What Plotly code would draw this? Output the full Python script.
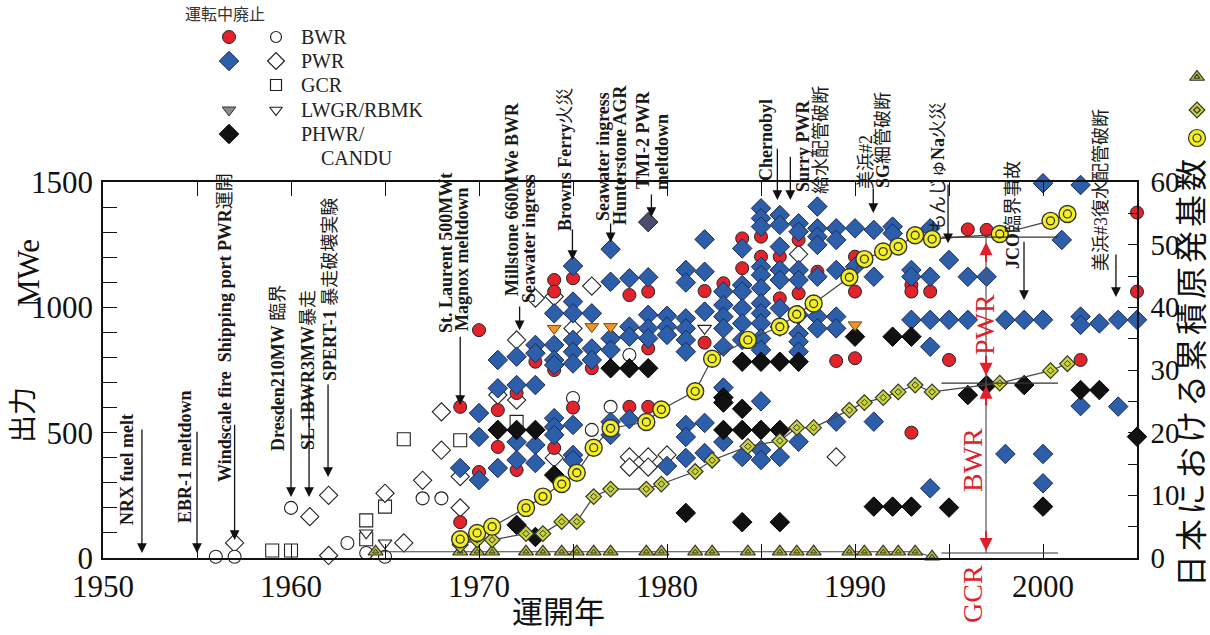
import plotly.graph_objects as go

W, H = 1210, 635
SERIF = "Liberation Serif, Noto Sans CJK JP, serif"

# ---------------- reactors worldwide: start year and output (MWe) ----------------
# BWR in operation
bwr_op_year = [1969, 1969, 1970, 1970, 1971, 1971, 1972, 1972, 1973,
               1974, 1974, 1974, 1974, 1975, 1975, 1976, 1978, 1978,
               1979, 1979, 1979, 1982, 1982, 1983, 1984, 1984, 1985, 1985,
               1986, 1986, 1987, 1987, 1988, 1989, 1990, 1990, 1990,
               1993, 1993, 1993, 1994, 1995, 1996, 1997, 2002, 2005, 2005]
bwr_op_mwe = [603, 143, 909, 343, 590, 443, 658, 351, 783,
              1109, 1063, 750, 439, 1116, 600, 757, 1049, 603,
              1063, 836, 603, 1065, 859, 1096, 1275, 1156, 1282, 1202,
              1202, 1036, 1269, 1056, 1142, 786, 1202, 1063, 797,
              1089, 1063, 500, 1063, 790, 1311, 1309, 790, 1378, 1063]

# BWR shut down
bwr_off_year = [1956, 1957, 1960, 1963, 1964, 1965, 1967, 1968, 1975, 1976, 1977, 1978]
bwr_off_mwe = [5, 5, 200, 60, 20, 5, 238, 238, 638, 511, 603, 810]

# PWR in operation
pwr_op_year = [
    1969,
    1970, 1970, 1970,
    1971, 1971, 1971,
    1972, 1972, 1972, 1972,
    1973, 1973, 1973, 1973, 1973,
    1974, 1974, 1974, 1974, 1974, 1974, 1974,
    1975, 1975, 1975, 1975, 1975, 1975, 1975, 1975, 1975,
    1976, 1976, 1976,
    1977, 1977, 1977, 1977, 1977, 1977,
    1978, 1978, 1978, 1978,
    1979, 1979, 1979, 1979,
    1980, 1980, 1980, 1980,
    1981, 1981, 1981, 1981, 1981, 1981, 1981, 1981, 1981,
    1982, 1982, 1982, 1982, 1982,
    1983, 1983, 1983, 1983, 1983, 1983, 1983,
    1984, 1984, 1984, 1984, 1984, 1984, 1984,
    1985, 1985, 1985, 1985, 1985, 1985, 1985, 1985, 1985, 1985, 1985, 1985, 1985, 1985,
    1986, 1986, 1986, 1986, 1986, 1986, 1986, 1986,
    1987, 1987, 1987, 1987, 1987, 1987, 1987, 1987, 1987,
    1988, 1988, 1988, 1988, 1988, 1988, 1988,
    1989, 1989, 1989, 1989, 1989, 1989,
    1990, 1990,
    1991, 1991, 1991,
    1992, 1992,
    1993, 1993, 1993,
    1994, 1994, 1994, 1994, 1994,
    1995, 1995,
    1996, 1996,
    1997,
    1998, 1998,
    1999,
    2000, 2000, 2000, 2000,
    2001,
    2002, 2002, 2002, 2002,
    2003,
    2004, 2004,
    2005,
]
pwr_op_mwe = [
    359,
    578, 483, 311,
    790, 677, 359,
    803, 690, 463, 391,
    850, 817, 690, 451, 379,
    976, 850, 790, 770, 558, 523, 491,
    1165, 1023, 976, 870, 823, 776, 531, 411, 391,
    976, 836, 790,
    1232, 1102, 876, 830, 543, 491,
    1116, 923, 883, 554,
    1120, 970, 916, 876,
    966, 923, 890, 367,
    1149, 1099, 956, 916, 870, 823, 531, 483, 399,
    1271, 1142, 983, 539, 419,
    1063, 1009, 963, 916, 843, 680, 463,
    1235, 1089, 1063, 996, 936, 870, 403,
    1395, 1355, 1322, 1162, 1129, 1076, 1016, 976, 936, 876, 830, 625, 431, 391,
    1368, 1329, 1242, 1149, 1109, 996, 923, 403,
    1335, 1302, 1149, 1109, 970, 896, 863, 823, 464,
    1402, 1315, 1282, 1249, 1122, 963, 916,
    1315, 1269, 1149, 963, 916, 544,
    1315, 1162,
    1309, 1122, 544,
    1322, 1295,
    1149, 1122, 950,
    1315, 1122, 950, 843, 278,
    1189, 950,
    1122, 950,
    1122,
    950, 415,
    950,
    1495, 950, 415, 298,
    1269,
    1488, 963, 930, 606,
    936,
    950, 604,
    950,
]

# PWR shut down
pwr_off_year = [1957, 1961, 1962, 1962, 1965, 1966, 1967, 1968, 1968, 1969, 1969,
                1971, 1972, 1972, 1973, 1974, 1974, 1975, 1976, 1978, 1978,
                1979, 1979, 1980, 1987, 1989]
pwr_off_mwe = [60, 165, 250, 10, 258, 60, 310, 583, 430, 325, 200,
               650, 870, 630, 1037, 1043, 399, 916, 1085, 403, 363,
               403, 363, 411, 1212, 403]

# TMI-2
tmi_year = [1979]
tmi_mwe = [1340]

# GCR shut down
gcr_off_year = [1959, 1960, 1964, 1964, 1965, 1966, 1969, 1972]
gcr_off_mwe = [30, 30, 150, 75, 205, 474, 470, 543]

# LWGR / RBMK
lwgr_op_year = [1974, 1976, 1977, 1990]
lwgr_op_mwe = [916, 923, 923, 930]
lwgr_off_year = [1964, 1965, 1982]
lwgr_off_mwe = [100, 60, 916]

# PHWR / CANDU in operation
phwr_year = [1971, 1972, 1972, 1973, 1973, 1974, 1977, 1978, 1979, 1981,
             1983, 1983, 1983, 1984, 1984, 1984, 1984, 1985, 1985,
             1986, 1986, 1986, 1987, 1990, 1991, 1992, 1992, 1993, 1993,
             1995, 1996, 1997, 1999, 2000, 2002, 2003, 2005]
phwr_mwe = [511, 511, 132, 511, 84, 331, 757, 757, 757, 180,
            640, 620, 511, 783, 595, 511, 143, 783, 511,
            783, 511, 143, 783, 883, 205, 883, 205, 883, 205,
            201, 650, 690, 690, 205, 670, 670, 484]

# ---------------- cumulative number of units in Japan (right axis) ----------------
jp_year = [1969.0, 1969.9, 1970.7, 1972.5, 1973.4, 1974.4, 1975.2, 1976.1,
           1977.0, 1978.9, 1979.7, 1981.5, 1982.4, 1984.3, 1986.0, 1986.9, 1987.8,
           1989.7, 1990.5, 1991.5, 1992.3, 1993.2, 1994.1, 1997.7, 2000.4, 2001.3]
jp_total = [3, 4, 5, 8, 9.8, 11.8, 13.6, 17.6,
            20.7, 21.7, 23.7, 26.6, 31.8, 34.8, 36.9, 38.9, 40.6,
            44.8, 47.7, 48.9, 49.7, 51.5, 50.9, 51.7, 53.8, 54.9]
jp_bwr_gcr = [2.1, 2.9, 2.9, 3.9, 3.9, 5.8, 5.8, 9.8,
              11.0, 11.0, 11.8, 13.8, 15.6, 17.8, 18.7, 20.8, 20.8,
              23.6, 24.8, 25.6, 26.5, 27.6, 26.5, 27.9, 29.9, 31.0]
jp_gcr_year = [1964.5, 1969.0, 1969.9, 1970.7, 1972.5, 1973.4, 1974.4, 1975.2, 1976.1,
               1977.0, 1978.9, 1979.7, 1981.5, 1982.4, 1984.3, 1986.0, 1986.9, 1987.8,
               1989.7, 1990.5, 1991.5, 1992.3, 1993.2, 1994.1]
jp_gcr = [1, 1, 1, 1, 1, 1, 1, 1, 1,
          1, 1, 1, 1, 1, 1, 1, 1, 1,
          1, 1, 1, 1, 1, 0.2]

# stacked totals in 1997: all units / BWR+GCR / GCR
stack_year = 1996.97
stack_levels = [51.2, 27.9, 0.8]
stack_span = [1994.6, 2000.8]

# ---------------- accidents and milestones ----------------
event_year = [1952.07, 1955.0, 1957.0, 1960.0, 1960.96, 1961.97, 1969.0, 1972.16, 1974.97,
              1977.0, 1979.17, 1985.87, 1986.56, 1990.97, 1994.95, 1998.99, 2003.88]
event_tail = [519, 510, 538, 602, 698, 698, 889, 1009, 1316,
              1340, 1456, 1639, 1607, 1480, 1496, 1268, 1217]
event_head = [20, 20, 72, 243, 243, 323, 610, 909, 1189,
              1260, 1360, 1428, 1428, 1376, 1256, 1029, 1041]

event_labels = [
    "<b>NRX fuel melt</b>",
    "<b>EBR-1 meltdown</b>",
    "<b>Windscale fire  Shipping port PWR</b>運開",
    "<b>Dresden210MW</b> 臨界",
    "<b>SL-1BWR3MW</b>暴走",
    "<b>SPERT-1</b> 暴走破壊実験",
    "<b>St. Laurent 500MWt</b>",
    "<b>Magnox meltdown</b>",
    "<b>Millstone 660MWe BWR</b>",
    "<b>Seawater ingress</b>",
    "<b>Browns Ferry</b>火災",
    "<b>Seawater ingress</b>",
    "<b>Hunterstone AGR</b>",
    "<b>TMI-2 PWR</b>",
    "<b>meltdown</b>",
    "<b>Chernobyl</b>",
    "<b>Surry PWR</b>",
    "給水配管破断",
    "美浜#2",
    "<b>SG</b>細管破断",
    "もんじゅ<b>Na</b>火災",
    "<b>JCO</b>臨界事故",
    "美浜#3復水配管破断",
]
# label centres in page pixels
label_px = [127, 185, 225, 278, 308, 330, 446, 462, 512, 529, 565, 603, 620,
            643, 662, 766, 803, 821, 866, 883, 938, 1013, 1101]
label_py = [470, 457, 328, 368, 370, 290, 253, 259, 199, 239, 160, 157, 155,
            140, 152, 140, 146, 140, 162, 140, 167, 215, 190]

# ---------------- styles ----------------
RED = "#e3232b"
BLUE = "#2d5ea9"
NAVY = "#1c2a55"
ORANGE = "#f29323"
YELLOW = "#f4ef1f"
LIME = "#c9d43a"
OLIVE = "#b2bb2c"

fig = go.Figure()


def scatter(x, y, symbol, size, fill, line="#111", lw=1.0, yaxis="y", mode="markers"):
    fig.add_trace(go.Scatter(
        x=x, y=y, mode=mode, yaxis=yaxis, showlegend=False,
        hoverinfo="skip", cliponaxis=False,
        line=dict(color="#444", width=1.2),
        marker=dict(symbol=symbol, size=size, color=fill, line=dict(color=line, width=lw)),
    ))


# retired units (open symbols)
scatter(gcr_off_year, gcr_off_mwe, "square", 13, "white", "#222", 1.1)
scatter(lwgr_off_year, lwgr_off_mwe, "triangle-down", 12, "white", "#222", 1.1)
scatter(pwr_off_year, pwr_off_mwe, "diamond", 14, "white", "#222", 1.1)
scatter(bwr_off_year, bwr_off_mwe, "circle", 13, "white", "#222", 1.1)

# operating units (filled symbols)
scatter(bwr_op_year, bwr_op_mwe, "circle", 13, RED, "#222", 1.0)
scatter(pwr_op_year, pwr_op_mwe, "diamond", 15, BLUE, NAVY, 1.0)
scatter(phwr_year, phwr_mwe, "diamond", 15, "#111111", "#000", 1.0)
scatter(lwgr_op_year, lwgr_op_mwe, "triangle-down", 12, ORANGE, "#6a4a20", 1.0)
scatter(tmi_year, tmi_mwe, "diamond", 15, "#4b4c6e", "#222", 1.0)

# cumulative Japanese units on the right axis
scatter(jp_gcr_year, jp_gcr, "triangle-up", 13, OLIVE, "#333", 1.2, "y2", "lines+markers")
scatter(jp_gcr_year, jp_gcr, "triangle-up", 5, OLIVE, "#333", 1.0, "y2")
scatter(jp_year, jp_bwr_gcr, "diamond", 12, LIME, "#333", 1.2, "y2", "lines+markers")
scatter(jp_year, jp_bwr_gcr, "diamond", 5, LIME, "#333", 1.0, "y2")
scatter(jp_year, jp_total, "circle", 17, YELLOW, "#333", 1.4, "y2", "lines+markers")
scatter(jp_year, jp_total, "circle", 8, YELLOW, "#333", 1.3, "y2")

# ---------------- key (drawn on a page-pixel overlay axis) ----------------
key_rows = ["BWR", "PWR", "GCR", "LWGR/RBMK", "PHWR/"]
key_py = [37, 61, 85, 110, 134]
key_filled = [("circle", 13, RED, "#222"), ("diamond", 15, BLUE, NAVY), None,
              ("triangle-down", 12, "#8a8a8a", "#333"), ("diamond", 15, "#111", "#000")]
key_open = [("circle", 11), ("diamond", 13), ("square", 11), ("triangle-down", 11), None]

for py, filled, opened, label in zip(key_py, key_filled, key_open, key_rows):
    if filled:
        sym, sz, col, lc = filled
        fig.add_trace(go.Scatter(x=[229], y=[py], xaxis="x3", yaxis="y3", mode="markers",
                                 showlegend=False, hoverinfo="skip", cliponaxis=False,
                                 marker=dict(symbol=sym, size=sz, color=col, line=dict(color=lc, width=1))))
    if opened:
        sym, sz = opened
        fig.add_trace(go.Scatter(x=[276], y=[py], xaxis="x3", yaxis="y3", mode="markers",
                                 showlegend=False, hoverinfo="skip", cliponaxis=False,
                                 marker=dict(symbol=sym, size=sz, color="white", line=dict(color="#222", width=1.2))))
    fig.add_annotation(x=300 / W, y=1 - py / H, xref="paper", yref="paper", text=label,
                       showarrow=False, xanchor="left", yanchor="middle", borderpad=0,
                       font=dict(family=SERIF, size=20, color="#222"))
fig.add_annotation(x=320 / W, y=1 - 158 / H, xref="paper", yref="paper", text="CANDU",
                   showarrow=False, xanchor="left", yanchor="middle", borderpad=0,
                   font=dict(family=SERIF, size=20, color="#222"))
fig.add_annotation(x=225 / W, y=1 - 15 / H, xref="paper", yref="paper", text="運転中廃止",
                   showarrow=False, xanchor="center", yanchor="middle",
                   font=dict(family=SERIF, size=16, color="#333"))

# key for the Japanese cumulative series (right edge)
for py, sym, sz, col, inner in [(77, "triangle-up", 13, OLIVE, 5), (110, "diamond", 12, LIME, 5),
                                (138, "circle", 17, YELLOW, 8)]:
    for s in (sz, inner):
        fig.add_trace(go.Scatter(x=[1197], y=[py], xaxis="x3", yaxis="y3", mode="markers",
                                 showlegend=False, hoverinfo="skip", cliponaxis=False,
                                 marker=dict(symbol=sym, size=s, color=col, line=dict(color="#333", width=1.2))))

# ---------------- event arrows and labels ----------------
for yr, tail, head in zip(event_year, event_tail, event_head):
    fig.add_annotation(x=yr, y=head, ax=yr, ay=tail, xref="x", yref="y", axref="x", ayref="y",
                       text="", showarrow=True, arrowhead=2, arrowsize=1.5, arrowwidth=1.3,
                       arrowcolor="#111", standoff=0)

for txt, px, py in zip(event_labels, label_px, label_py):
    fig.add_annotation(x=px / W, y=1 - py / H, xref="paper", yref="paper", text=txt,
                       textangle=-90, showarrow=False, xanchor="center", yanchor="middle",
                       font=dict(family=SERIF, size=18, color="#1a1a1a"))

# ---------------- stacked totals bracket (PWR / BWR / GCR) ----------------
shapes = []
for lvl in stack_levels:
    shapes.append(dict(type="line", xref="x", yref="y2", x0=stack_span[0], x1=stack_span[1],
                       y0=lvl, y1=lvl, line=dict(color="#333", width=1.2)))
shapes.append(dict(type="line", xref="x", yref="y2", x0=stack_year, x1=stack_year,
                   y0=stack_levels[2], y1=stack_levels[0], line=dict(color="#555", width=1.2)))
shapes.append(dict(type="line", xref="x", yref="y2", x0=stack_year, x1=stack_year,
                   y0=-9, y1=-3, line=dict(color="#5a8a6a", width=1.2)))

red_tips = [(50.4, 47.0), (29.1, 32.5), (27.5, 24.1), (1.1, 4.5), (-0.4, -3.6)]
for tip, tail in red_tips:
    fig.add_annotation(x=stack_year, y=tip, ax=stack_year, ay=tail, xref="x", yref="y2",
                       axref="x", ayref="y2", text="", showarrow=True, arrowhead=2,
                       arrowsize=1.3, arrowwidth=2, arrowcolor="#e0202a", standoff=0)

for txt, px, py in [("PWR", 984, 325), ("BWR", 972, 460), ("GCR", 972, 594)]:
    fig.add_annotation(x=px / W, y=1 - py / H, xref="paper", yref="paper", text=txt,
                       textangle=-90, showarrow=False, xanchor="center", yanchor="middle",
                       font=dict(family=SERIF, size=28, color="#e0202a"))

# ---------------- axis titles ----------------
titles = [("MWe", 28, 273, -90, 31), ("出力", 24, 415, -90, 28),
          ('<span style="letter-spacing:4px">日本における累積原発基数</span>', 1192, 371, -90, 32),
          ("運開年", 558, 612, 0, 31)]
for txt, px, py, ang, sz in titles:
    fig.add_annotation(x=px / W, y=1 - py / H, xref="paper", yref="paper", text=txt,
                       textangle=ang, showarrow=False, xanchor="center", yanchor="middle",
                       borderpad=0,
                       font=dict(family=SERIF, size=sz, color="#111"))

fig.update_layout(
    width=W, height=H,
    margin=dict(l=0, r=0, t=0, b=0, autoexpand=False),
    paper_bgcolor="white", plot_bgcolor="rgba(0,0,0,0)",
    showlegend=False,
    shapes=shapes,
    xaxis=dict(domain=[103 / W, 1137 / W], range=[1950, 2005], tick0=1950, dtick=10,
               ticks="inside", ticklen=14, tickwidth=1.2, tickcolor="#111",
               minor=dict(dtick=5, ticks="inside", ticklen=14, tickcolor="#111", tickwidth=1.2),
               showline=True, linecolor="#111", linewidth=1.5, mirror="ticks",
               showgrid=False, zeroline=False, ticklabelstandoff=0,
               tickfont=dict(family=SERIF, size=31, color="#111")),
    yaxis=dict(domain=[77 / H, 453 / H], range=[0, 1500], dtick=500,
               ticks="inside", ticklen=14, tickwidth=1.2, tickcolor="#111",
               minor=dict(dtick=100, ticks="inside", ticklen=14, tickcolor="#111", tickwidth=1.2),
               showline=True, linecolor="#111", linewidth=1.5, mirror=False,
               showgrid=False, zeroline=False, ticklabelstandoff=2,
               tickfont=dict(family=SERIF, size=31, color="#111")),
    yaxis2=dict(overlaying="y", side="right", anchor="x", range=[0, 60], dtick=10,
                ticks="inside", ticklen=9, tickwidth=1.2, tickcolor="#111",
                minor=dict(dtick=5, ticks="inside", ticklen=9, tickcolor="#111", tickwidth=1.2),
                showline=True, linecolor="#111", linewidth=1.5, ticklabelstandoff=6,
                showgrid=False, zeroline=False,
                tickfont=dict(family=SERIF, size=29, color="#111")),
    xaxis3=dict(domain=[0, 1], range=[0, W], anchor="y3", visible=False, fixedrange=True),
    yaxis3=dict(domain=[0, 1], range=[H, 0], anchor="x3", visible=False, fixedrange=True),
)

fig.write_html("out.html")
